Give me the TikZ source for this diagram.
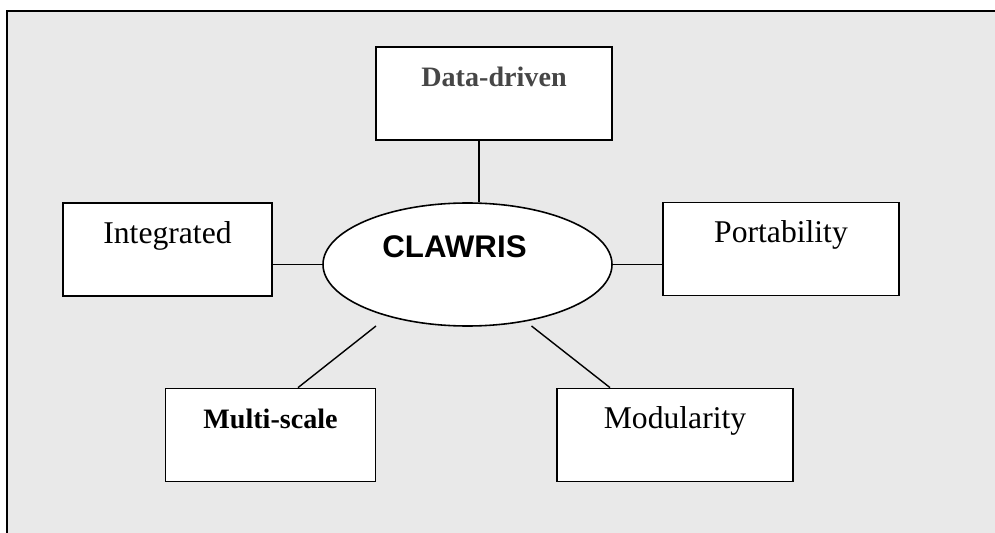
\documentclass[tikz,border=0pt]{standalone}
\usepackage{fontspec}
\setmainfont{Liberation Serif}
\newfontfamily\arialfont{Liberation Sans}
\usetikzlibrary{shapes.geometric}
\definecolor{paper}{RGB}{233,233,233}
\definecolor{darkgrey}{RGB}{70,70,70}

\begin{document}
\begin{tikzpicture}
    \tikzset{%
      box/.style={rectangle, draw, fill=white, line width=1pt,
        minimum height=1.86cm, inner ysep=0pt, text height=0.8cm,
        text depth=1.06cm},
      plain/.style={font=\fontsize{18}{20}\selectfont},
      heavy/.style={font=\fontsize{16}{18}\selectfont\bfseries},
      hub/.style={ellipse, draw, fill=white, line width=0.9pt,
        inner sep=0pt, minimum width=5.78cm, minimum height=2.46cm,
        text height=0.43cm, text depth=0.69cm,
        font=\arialfont\fontsize{17.8}{19}\selectfont\bfseries},
      link/.style={line width=0.8pt},
    }
    \useasboundingbox (0,0) rectangle (19.9,-10.66);
    % background and frame
    \fill[paper] (0.14,-0.22) rectangle (19.9,-10.66);
    \draw[line width=1.3pt] (0.14,-10.66) -- (0.14,-0.22) -- (19.9,-0.22);

    \node[hub] (clawris) at (9.35,-5.29) {CLAWRIS\hspace*{0.52cm}};

    \node[box, heavy, minimum width=4.72cm, text=darkgrey] (dd) at (9.88,-1.87) {Data-driven};
    \node[box, plain, minimum width=4.18cm] (int) at (3.35,-4.99) {Integrated};
    \node[box, plain, minimum width=4.72cm] (port) at (15.62,-4.98) {Portability};
    \node[box, heavy, minimum width=4.20cm] (ms) at (5.41,-8.70) {Multi-scale};
    \node[box, plain, minimum width=4.72cm] (mod) at (13.50,-8.70) {Modularity};

    % connectors
    \coordinate (ddfoot) at ([xshift=-0.3cm]dd.south);
    \draw[link] (ddfoot) -- (ddfoot |- clawris.north);
    \draw[link] (clawris.west) -- (clawris.west -| int.east);
    \draw[link] (clawris.east) -- (clawris.east -| port.west);

    \coordinate (msend) at (7.52,-6.52);
    \coordinate (modend) at (10.63,-6.52);
    \draw[link] (msend) -- ([xshift=0.55cm]ms.north);
    \draw[link] (modend) -- ([xshift=-1.3cm]mod.north);
\end{tikzpicture}
\end{document}
